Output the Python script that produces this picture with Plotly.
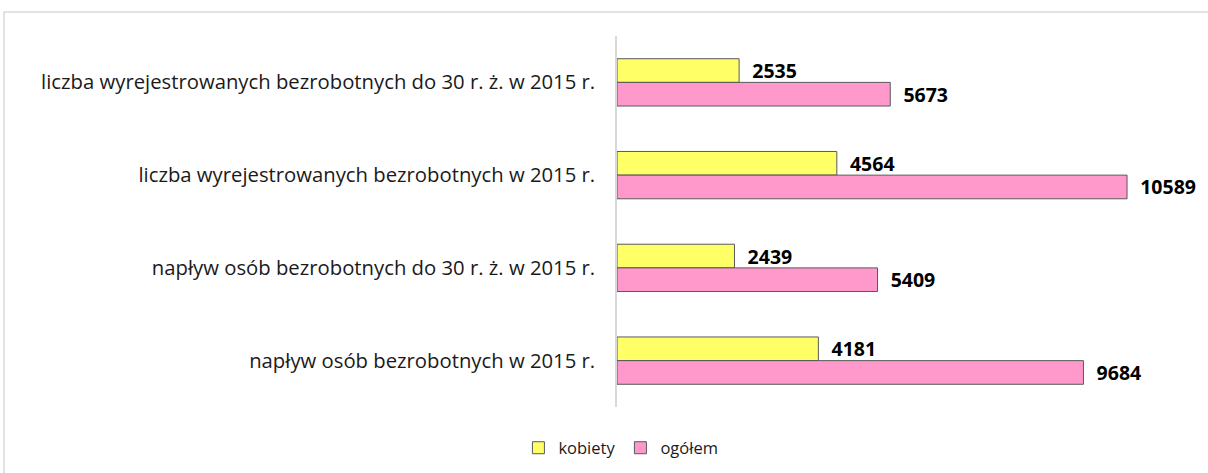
import plotly.graph_objects as go

categories = [
    "liczba wyrejestrowanych bezrobotnych do 30 r. ż. w 2015 r.",
    "liczba wyrejestrowanych bezrobotnych w 2015 r.",
    "napływ osób bezrobotnych do 30 r. ż. w 2015 r.",
    "napływ osób bezrobotnych w 2015 r.",
]
kobiety = [2535, 4564, 2439, 4181]
ogolem = [5673, 10589, 5409, 9684]
series_names = ["kobiety", "ogółem"]

FONT = "Open Sans, Noto Sans, sans-serif"
W, H = 1208, 473
ML, MR, MT, MB = 617, 13, 36, 66
pw, ph = W - ML - MR, H - MT - MB

fig = go.Figure()
for name, vals, col in [(series_names[0], kobiety, "#FFFF66"), (series_names[1], ogolem, "#FF99CC")]:
    fig.add_trace(go.Bar(
        y=categories, x=vals, name=name, orientation="h",
        marker=dict(color=col, line=dict(color="#595959", width=1)),
        texttemplate="\u00a0\u00a0%{x:d}", textposition="outside", constraintext="none",
        textfont=dict(family=FONT, size=19.5, color="black", weight="bold"),
        cliponaxis=False,
    ))

# outer chart border (light gray)
x0 = (4 - ML) / pw
ytop = (H - MB - 12) / ph
fig.add_shape(type="rect", xref="paper", yref="paper", x0=x0, x1=1.2, y0=-0.5, y1=ytop,
              line=dict(color="#D9D9D9", width=1.5), fillcolor="rgba(0,0,0,0)", layer="below")

fig.update_layout(
    width=W, height=H,
    margin=dict(l=ML, r=MR, t=MT, b=MB, autoexpand=False),
    paper_bgcolor="white", plot_bgcolor="white",
    barmode="group", bargap=0.49, bargroupgap=0,
    font=dict(family=FONT, size=19, color="#1a1a1a"),
    xaxis=dict(range=[0, 12000], visible=False, showgrid=False, zeroline=False),
    yaxis=dict(autorange="reversed", showgrid=False, zeroline=False, showline=True,
               linecolor="#D9D9D9", linewidth=1.5, ticks="", ticklabelstandoff=16,
               tickfont=dict(family=FONT, size=20.3, color="#1a1a1a")),
    showlegend=True,
    legend=dict(orientation="h", xref="container", yref="container", x=0.514, y=1 - 448 / H,
                xanchor="center", yanchor="middle", font=dict(family=FONT, size=16.5, color="#1a1a1a"),
                itemwidth=30, traceorder="normal"),
)

fig.write_html("out.html", config={"displayModeBar": False},
               post_script="document.body.style.margin='0px';")
